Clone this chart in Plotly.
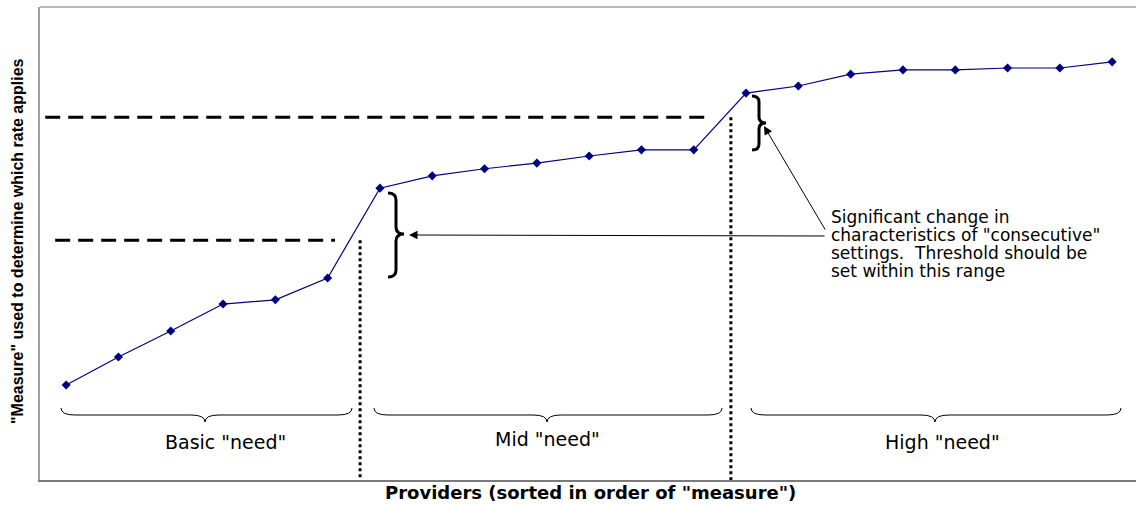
import plotly.graph_objects as go

# ---- data ----
providers = list(range(1, 22))
measure = [20.1, 26.0, 31.5, 37.2, 38.1, 42.7, 61.7, 64.3, 65.8, 67.0, 68.5,
           69.8, 69.8, 81.8, 83.3, 85.8, 86.7, 86.7, 87.1, 87.1, 88.4]
thresholds = [50.7, 76.7]
threshold_x_start = [0.79, 0.6]
threshold_x_end = [6.14, 13.31]
dividers = [6.62, 13.71]
group_labels = ['Basic "need"', 'Mid "need"', 'High "need"']
note_lines = ['Significant change in', 'characteristics of "consecutive"',
              'settings.  Threshold should be', 'set within this range']

# ---- layout geometry (pixels) ----
W, H = 1136, 505
L, T, B = 40, 7, 25
PW = W - L
PH = H - T - B
PX_PER_X = 52.3
X0 = 0.5
Y_RANGE = [0, 100]


def px2x(px):
    return X0 + (px - L) / PX_PER_X


def px2y(py):
    return (H - B - py) / PH * (Y_RANGE[1] - Y_RANGE[0]) + Y_RANGE[0]


def hbrace(x1, x2, xm, y0, ym, yt, q=14):
    pts = [
        f"M {px2x(x1)},{px2y(y0)}",
        f"Q {px2x(x1)},{px2y(ym)} {px2x(x1+q)},{px2y(ym)}",
        f"L {px2x(xm-q)},{px2y(ym)}",
        f"Q {px2x(xm)},{px2y(ym)} {px2x(xm)},{px2y(yt)}",
        f"Q {px2x(xm)},{px2y(ym)} {px2x(xm+q)},{px2y(ym)}",
        f"L {px2x(x2-q)},{px2y(ym)}",
        f"Q {px2x(x2)},{px2y(ym)} {px2x(x2)},{px2y(y0)}",
    ]
    return " ".join(pts)


def vbrace(xe, xs, xt, y1, y2, ytip, q=7):
    pts = [
        f"M {px2x(xe)},{px2y(y1)}",
        f"Q {px2x(xs)},{px2y(y1)} {px2x(xs)},{px2y(y1+q)}",
        f"L {px2x(xs)},{px2y(ytip-q)}",
        f"Q {px2x(xs)},{px2y(ytip)} {px2x(xt)},{px2y(ytip)}",
        f"Q {px2x(xs)},{px2y(ytip)} {px2x(xs)},{px2y(ytip+q)}",
        f"L {px2x(xs)},{px2y(y2-q)}",
        f"Q {px2x(xs)},{px2y(y2)} {px2x(xe)},{px2y(y2)}",
    ]
    return " ".join(pts)


fig = go.Figure()
fig.add_trace(go.Scatter(
    x=providers, y=measure, mode='lines+markers',
    line=dict(color='#000080', width=1.2),
    marker=dict(symbol='diamond', size=7, color='#000080'),
    showlegend=False, hoverinfo='skip'))

shapes = []
for y, xs, xe in zip(thresholds, threshold_x_start, threshold_x_end):
    shapes.append(dict(type='line', xref='x', yref='y', x0=xs, x1=xe, y0=y, y1=y,
                       line=dict(color='black', width=3, dash='15px,8px')))
for xd, y in zip(dividers, thresholds):
    shapes.append(dict(type='line', xref='x', yref='y', x0=xd, x1=xd, y0=y, y1=Y_RANGE[0],
                       line=dict(color='black', width=3, dash='3px,3px')))

# bottom horizontal braces
for (x1, x2, xm) in [(61, 352, 205), (374, 722, 547), (751, 1121, 935)]:
    shapes.append(dict(type='path', xref='x', yref='y', path=hbrace(x1, x2, xm, 408, 415, 422),
                       line=dict(color='black', width=1)))
# vertical braces
shapes.append(dict(type='path', xref='x', yref='y', path=vbrace(388, 396, 404, 193, 277, 234),
                   line=dict(color='black', width=3)))
shapes.append(dict(type='path', xref='x', yref='y', path=vbrace(752, 759, 766, 96, 150, 123, q=6),
                   line=dict(color='black', width=3)))
# top border
shapes.append(dict(type='line', xref='paper', yref='paper', x0=0, x1=1, y0=1, y1=1,
                   line=dict(color='#b8b8b8', width=2)))

annotations = []
FONT = 'DejaVu Sans, Liberation Sans, Arial'
for line, py in zip(note_lines, [217, 235, 253, 271]):
    annotations.append(dict(x=px2x(829), y=px2y(py), xref='x', yref='y', text=line,
                            showarrow=False, xanchor='left', yanchor='middle',
                            font=dict(family=FONT, size=17, color='black')))
for lbl, (cx, cy) in zip(group_labels, [(225, 442), (547, 439), (942, 442)]):
    annotations.append(dict(x=px2x(cx), y=px2y(cy), xref='x', yref='y', text=lbl,
                            showarrow=False, xanchor='center', yanchor='middle',
                            font=dict(family=FONT, size=19, color='black')))
# arrows
for (hx, hy), (tx, ty) in [((409, 235), (826, 236)), ((764, 126), (826, 231))]:
    annotations.append(dict(x=px2x(hx), y=px2y(hy), ax=px2x(tx), ay=px2y(ty),
                            xref='x', yref='y', axref='x', ayref='y', text='',
                            showarrow=True, arrowhead=2, arrowsize=1.7, arrowwidth=1,
                            arrowcolor='black'))
# axis titles
annotations.append(dict(x=(590 - L) / PW, y=-(492 - (H - B)) / PH, xref='paper', yref='paper',
                        text='<b>Providers (sorted in order of "measure")</b>', showarrow=False,
                        xanchor='center', yanchor='middle',
                        font=dict(family='DejaVu Sans, Arial', size=18, color='black')))
annotations.append(dict(x=(17 - L) / PW, y=(H - B - 241) / PH, xref='paper', yref='paper',
                        text='<b>"Measure" used to determine which rate applies</b>',
                        showarrow=False, textangle=-90, xanchor='center', yanchor='middle',
                        font=dict(family='Liberation Sans, Arial', size=16, color='black')))

fig.update_layout(
    width=W, height=H,
    margin=dict(l=L, r=0, t=T, b=B, pad=0),
    paper_bgcolor='white', plot_bgcolor='white',
    xaxis=dict(range=[X0, X0 + PW / PX_PER_X], showgrid=False, zeroline=False,
               showticklabels=False, ticks='', showline=True, linecolor='#7a7a7a', linewidth=2),
    yaxis=dict(range=Y_RANGE, showgrid=False, zeroline=False, showticklabels=False,
               ticks='', showline=True, linecolor='#a0a0a0', linewidth=1.5),
    shapes=shapes, annotations=annotations,
)

fig.write_html("out.html", config={'displayModeBar': False},
               post_script="document.body.style.margin='0';document.body.style.overflow='hidden';")
